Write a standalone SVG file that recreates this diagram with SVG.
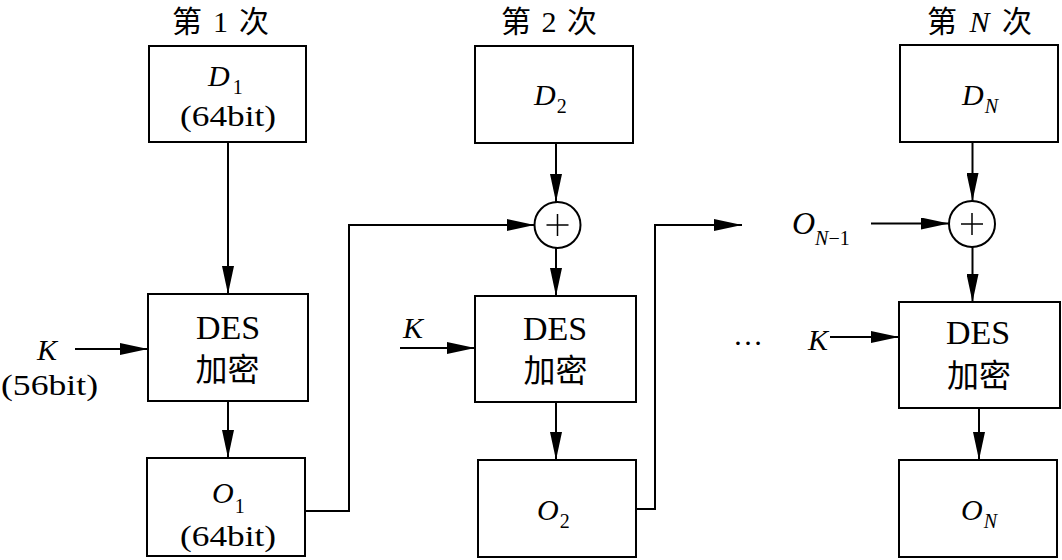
<svg xmlns="http://www.w3.org/2000/svg" width="1062" height="560" viewBox="0 0 1062 560">
<style>
text{font-family:"Liberation Serif","Noto Sans CJK SC",serif;font-size:30px;fill:#000}
.it{font-style:italic}
.sub{font-size:20px}
.mid{text-anchor:middle}
.cjk{font-size:32px}
.des{font-size:34px}
.box{fill:#fff;stroke:#000;stroke-width:2}
.circ{fill:#fff;stroke:#000;stroke-width:2}
.plus{stroke:#000;stroke-width:1.5}
.conn path{fill:none;stroke:#000;stroke-width:2;marker-end:url(#ah)}
</style>
<defs>
<marker id="ah" markerUnits="userSpaceOnUse" markerWidth="28" markerHeight="12" refX="28" refY="6" orient="auto">
<path d="M0,0 L28,6 L0,12 Z" fill="#000"/>
</marker>
</defs>
<rect width="1062" height="560" fill="#fff"/>
<g id="titles">
<text class="mid" x="220.5" y="32" textLength="97" lengthAdjust="spacing">第 1 次</text>
<text class="mid" x="549" y="32" textLength="96" lengthAdjust="spacing">第 2 次</text>
<text class="mid" x="979.5" y="32" textLength="105" lengthAdjust="spacing">第 <tspan class="it">N</tspan> 次</text>
</g>
<g class="conn" id="connectors">
<path d="M228,142 V294"/>
<path d="M228,401 V458"/>
<path d="M75,349 H148"/>
<path d="M305,511 H349 V225 H534.5"/>
<path d="M556,143 V202"/>
<path d="M556,248 V296"/>
<path d="M400,348 H475"/>
<path d="M556,402 V460"/>
<path d="M636,509 H655 V225 H742"/>
<path d="M972.5,142 V201"/>
<path d="M871,223.5 H949"/>
<path d="M972.5,247 V302"/>
<path d="M830,337 H899"/>
<path d="M979,408 V460"/>
</g>
<g id="D1">
<rect class="box" x="149" y="46" width="157" height="96"/>
<text x="208" y="86"><tspan class="it">D</tspan><tspan class="sub" dx="3" dy="8">1</tspan></text>
<text class="mid" x="228" y="126" textLength="96" lengthAdjust="spacingAndGlyphs">(64bit)</text>
</g>
<g id="DES1">
<rect class="box" x="148" y="294" width="160" height="107"/>
<text class="mid des" x="228" y="339">DES</text>
<text class="mid cjk" x="227.5" y="381">加密</text>
</g>
<g id="K1">
<text class="it" x="37" y="360">K</text>
<text x="1" y="395" textLength="97" lengthAdjust="spacingAndGlyphs">(56bit)</text>
</g>
<g id="O1">
<rect class="box" x="147" y="458" width="158" height="98"/>
<text x="212" y="503"><tspan class="it">O</tspan><tspan class="sub" dx="1" dy="10">1</tspan></text>
<text class="mid" x="228" y="546" textLength="96" lengthAdjust="spacingAndGlyphs">(64bit)</text>
</g>
<g id="D2">
<rect class="box" x="475" y="46" width="158" height="97"/>
<text x="534" y="105"><tspan class="it">D</tspan><tspan class="sub" dx="1" dy="8">2</tspan></text>
</g>
<g id="XOR2">
<circle class="circ" cx="557.5" cy="225" r="23"/>
<path class="plus" d="M546.5,225 H568.5 M557.5,214 V236"/>
</g>
<g id="K2">
<text class="it" x="403" y="338">K</text>
</g>
<g id="DES2">
<rect class="box" x="475" y="296" width="161" height="106"/>
<text class="mid des" x="555" y="340">DES</text>
<text class="mid cjk" x="555.5" y="382">加密</text>
</g>
<g id="O2">
<rect class="box" x="478" y="460" width="158" height="97"/>
<text x="537" y="520"><tspan class="it">O</tspan><tspan class="sub" dx="1" dy="8">2</tspan></text>
</g>
<g id="ON1">
<text x="792" y="234"><tspan class="it" font-size="32">O</tspan><tspan class="sub" dy="11"><tspan class="it">N</tspan>−1</tspan></text>
</g>
<g id="dots">
<text x="733" y="345">…</text>
</g>
<g id="DN">
<rect class="box" x="900" y="45" width="158" height="97"/>
<text x="962" y="105"><tspan class="it">D</tspan><tspan class="sub it" dx="1" dy="8">N</tspan></text>
</g>
<g id="XORN">
<circle class="circ" cx="972" cy="224" r="23"/>
<path class="plus" d="M961,224 H983 M972,213 V235"/>
</g>
<g id="K3">
<text class="it" x="808" y="350">K</text>
</g>
<g id="DES3">
<rect class="box" x="899" y="302" width="161" height="106"/>
<text class="mid des" x="978" y="344">DES</text>
<text class="mid cjk" x="979" y="387">加密</text>
</g>
<g id="ON">
<rect class="box" x="899" y="460" width="158" height="97"/>
<text x="961" y="520"><tspan class="it">O</tspan><tspan class="sub it" dx="1" dy="8">N</tspan></text>
</g>
</svg>
